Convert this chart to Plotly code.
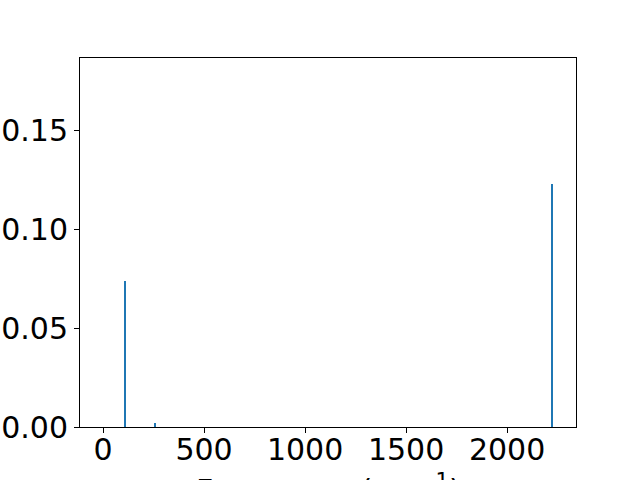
import plotly.graph_objects as go

frequencies = [110, 259, 2224]
intensities = [0.0737, 0.0020, 0.1227]
x_ticks = [0, 500, 1000, 1500, 2000]
y_ticks = [0.00, 0.05, 0.10, 0.15]
y_tick_labels = ["0.00", "0.05", "0.10", "0.15"]

fig = go.Figure()
fig.add_trace(go.Bar(x=frequencies, y=intensities, width=5,
                     marker=dict(color="#1f77b4", line=dict(width=0))))

font = dict(family="DejaVu Sans", size=30, color="black")
fig.update_layout(
    width=640, height=480,
    margin=dict(l=80, r=64, t=58, b=53, autoexpand=False),
    plot_bgcolor="white", paper_bgcolor="white",
    showlegend=False, font=font,
)
fig.update_xaxes(range=[-114, 2341], tickvals=x_ticks, ticks="outside", ticklen=5,
                 tickcolor="black", showline=True, linecolor="black", linewidth=1,
                 mirror=True, showgrid=False, zeroline=False, tickfont=font,
                 automargin=False, ticklabelstandoff=-9)
fig.update_yaxes(range=[0, 0.1864], tickvals=y_ticks, ticktext=y_tick_labels,
                 ticks="outside", ticklen=5, tickcolor="black", showline=True,
                 linecolor="black", linewidth=1, mirror=True, showgrid=False,
                 zeroline=False, tickfont=font, automargin=False)
fig.add_annotation(text="Frequency (cm<sup>−1</sup>)", xref="paper", yref="paper",
                   x=0.5, y=0, yshift=-40, yanchor="top", showarrow=False, font=font)
fig.write_html("out.html", config={"displayModeBar": False},
               post_script="document.body.style.margin='0';document.body.style.overflow='hidden';")
